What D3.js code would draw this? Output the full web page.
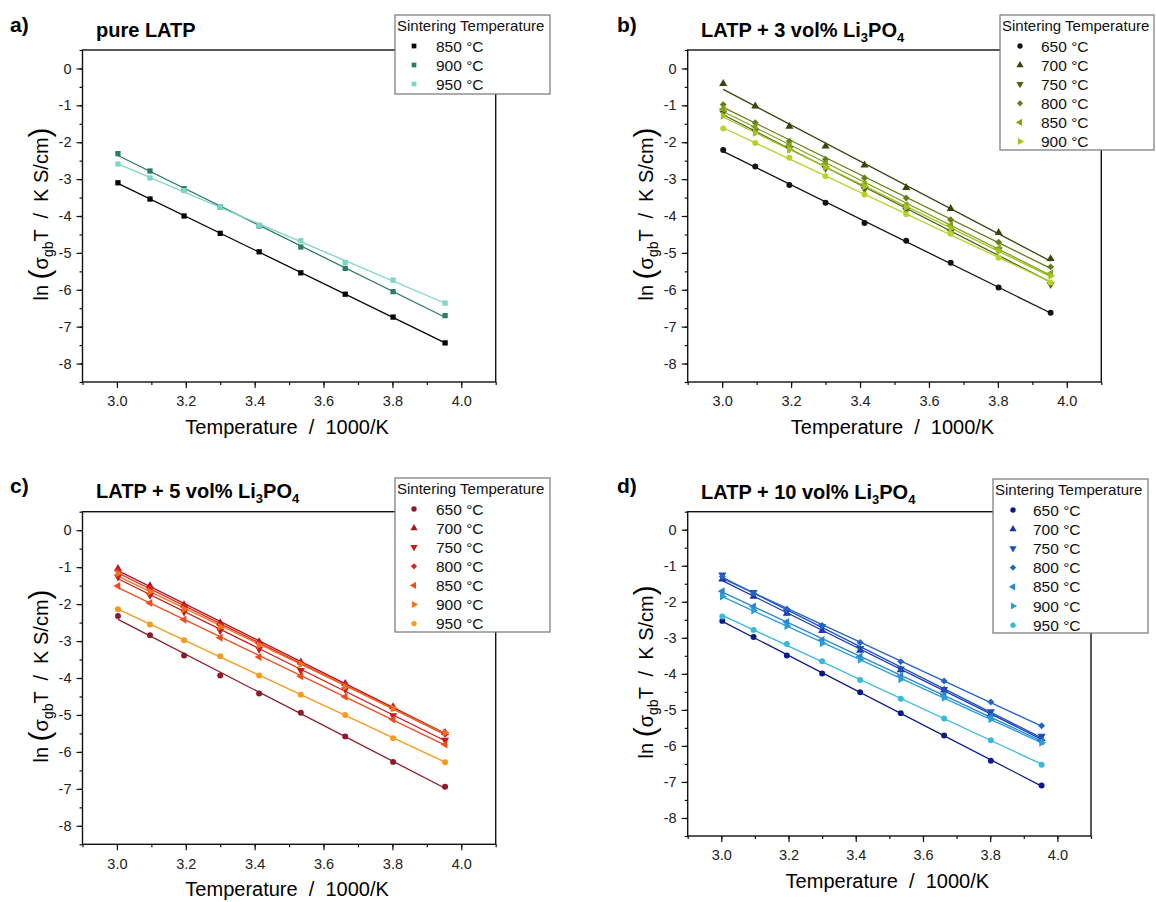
<!DOCTYPE html>
<html>
<head>
<meta charset="utf-8">
<script src="https://cdnjs.cloudflare.com/ajax/libs/d3/7.8.5/d3.min.js"></script>
<style>
  body { margin: 0; background: #fff; }
  svg text { font-family: "Liberation Sans", Arial, sans-serif; }
</style>
</head>
<body>
<svg width="1156" height="902"></svg>
<script>
// x positions: 1000/T for measurement temperatures 60 ... -20 °C
const invT = [3.003, 3.096, 3.195, 3.300, 3.413, 3.534, 3.663, 3.802, 3.953];

const xTicks = [3.0, 3.2, 3.4, 3.6, 3.8, 4.0];
const yTicks = [0, -1, -2, -3, -4, -5, -6, -7, -8];

// a) pure LATP
const tempsA = ["850 °C", "900 °C", "950 °C"];
const shapesA = ["square", "square", "square"];
const colorsA = ["#050505", "#2e7b68", "#7dd4c7"];
const valuesA = [
  [-3.10, -3.54, -4.00, -4.47, -4.97, -5.54, -6.12, -6.74, -7.44],
  [-2.31, -2.78, -3.26, -3.76, -4.27, -4.84, -5.42, -6.05, -6.70],
  [-2.59, -2.97, -3.31, -3.76, -4.25, -4.67, -5.26, -5.74, -6.36]
];

// b) LATP + 3 vol% Li3PO4 (last series has no legend entry)
const tempsB = ["650 °C", "700 °C", "750 °C", "800 °C", "850 °C", "900 °C"];
const shapesB = ["circle", "up", "down", "diamond", "left", "right", "circle"];
const colorsB = ["#141414", "#38450f", "#4e6012", "#677f16", "#85a11b", "#a2c21f", "#b4d42a"];
const valuesB = [
  [-2.21, -2.66, -3.16, -3.64, -4.19, -4.67, -5.27, -5.94, -6.62],
  [-0.41, -1.02, -1.57, -2.11, -2.62, -3.23, -3.80, -4.45, -5.16],
  [-1.20, -1.70, -2.17, -2.71, -3.27, -3.84, -4.43, -4.91, -5.85],
  [-0.98, -1.47, -1.97, -2.46, -2.97, -3.51, -4.10, -4.71, -5.38],
  [-1.10, -1.58, -2.08, -2.58, -3.14, -3.71, -4.25, -4.88, -5.56],
  [-1.28, -1.74, -2.20, -2.68, -3.20, -3.76, -4.33, -4.95, -5.62],
  [-1.63, -2.02, -2.42, -2.92, -3.42, -3.95, -4.48, -5.13, -5.80]
];

// c) LATP + 5 vol% Li3PO4
const tempsC = ["650 °C", "700 °C", "750 °C", "800 °C", "850 °C", "900 °C", "950 °C"];
const shapesC = ["circle", "up", "down", "diamond", "left", "right", "circle"];
const colorsC = ["#8b1a2b", "#b0141f", "#cc1818", "#e0221a", "#ec4e1e", "#f2721b", "#f7991c"];
const valuesC = [
  [-2.32, -2.84, -3.39, -3.93, -4.42, -4.94, -5.58, -6.27, -6.94],
  [-1.04, -1.51, -2.02, -2.51, -3.02, -3.57, -4.15, -4.78, -5.48],
  [-1.26, -1.76, -2.21, -2.72, -3.22, -3.79, -4.31, -5.02, -5.68],
  [-1.10, -1.58, -2.07, -2.57, -3.07, -3.61, -4.19, -4.82, -5.52],
  [-1.51, -1.97, -2.42, -2.91, -3.43, -3.95, -4.51, -5.12, -5.80],
  [-1.17, -1.67, -2.14, -2.61, -3.11, -3.63, -4.24, -4.82, -5.48],
  [-2.14, -2.55, -2.98, -3.41, -3.93, -4.45, -5.00, -5.63, -6.28]
];

// d) LATP + 10 vol% Li3PO4
const tempsD = ["650 °C", "700 °C", "750 °C", "800 °C", "850 °C", "900 °C", "950 °C"];
const shapesD = ["circle", "up", "down", "diamond", "left", "right", "circle"];
const colorsD = ["#0b1a8a", "#1836aa", "#1c4dbf", "#2463c9", "#2b86d2", "#2a9fd5", "#36b9dc"];
const valuesD = [
  [-2.53, -2.98, -3.49, -3.99, -4.51, -5.09, -5.71, -6.41, -7.10],
  [-1.37, -1.85, -2.32, -2.80, -3.35, -3.89, -4.45, -5.12, -5.80],
  [-1.25, -1.74, -2.28, -2.69, -3.29, -3.86, -4.43, -5.05, -5.73],
  [-1.30, -1.76, -2.20, -2.66, -3.13, -3.66, -4.20, -4.78, -5.44],
  [-1.71, -2.13, -2.56, -3.06, -3.52, -4.06, -4.59, -5.19, -5.87],
  [-1.85, -2.24, -2.67, -3.15, -3.61, -4.15, -4.66, -5.26, -5.91],
  [-2.41, -2.78, -3.17, -3.65, -4.17, -4.69, -5.24, -5.84, -6.52]
];

const svg = d3.select("svg");

const symbolOf = {
  square: [d3.symbolSquare, 0, 28],
  circle: [d3.symbolCircle, 0, 28],
  up: [d3.symbolTriangle, 0, 28],
  down: [d3.symbolTriangle, 180, 28],
  left: [d3.symbolTriangle, -90, 28],
  right: [d3.symbolTriangle, 90, 28],
  diamond: [d3.symbolSquare, 45, 24]
};

function marker(g, shape, x, y, color, scale) {
  const s = symbolOf[shape];
  g.append("path")
    .attr("d", d3.symbol().type(s[0]).size(s[2] * (scale || 1))())
    .attr("transform", `translate(${x},${y}) rotate(${s[1]})`)
    .attr("fill", color);
}

// least squares line through a series
function fit(xs, ys) {
  const mx = d3.mean(xs), my = d3.mean(ys);
  let num = 0, den = 0;
  xs.forEach((x, i) => { num += (x - mx) * (ys[i] - my); den += (x - mx) * (x - mx); });
  const k = num / den;
  return x => my + k * (x - mx);
}

function drawPanel(p) {
  const x = d3.scaleLinear().domain([2.9, 4.1]).range([p.left, p.right]);
  const y = d3.scaleLinear().domain([-8.5, 0.5]).range([p.bottom, p.top]);
  const g = svg.append("g");

  // minor ticks
  g.append("g")
    .attr("transform", `translate(0,${p.bottom})`)
    .call(d3.axisBottom(x).tickValues(d3.range(2.9, 4.11, 0.1)).tickSize(3).tickFormat(""))
    .call(a => a.select(".domain").remove());
  g.append("g")
    .attr("transform", `translate(${p.left},0)`)
    .call(d3.axisLeft(y).tickValues(d3.range(-8.5, 0.51, 0.5)).tickSize(3).tickFormat(""))
    .call(a => a.select(".domain").remove());

  // major ticks
  const xa = g.append("g")
    .attr("transform", `translate(0,${p.bottom})`)
    .call(d3.axisBottom(x).tickValues(xTicks).tickSize(6).tickPadding(8).tickFormat(d => d.toFixed(1)));
  const ya = g.append("g")
    .attr("transform", `translate(${p.left},0)`)
    .call(d3.axisLeft(y).tickValues(yTicks).tickSize(6).tickPadding(5).tickFormat(d => String(d)));
  [xa, ya].forEach(a => {
    a.select(".domain").remove();
    a.attr("font-family", null).attr("font-size", 14.5);
    a.selectAll("text").attr("fill", "#222");
  });
  g.selectAll(".tick line").attr("stroke", "#111").attr("stroke-width", 1.2);

  g.append("rect")
    .attr("x", p.left).attr("y", p.top)
    .attr("width", p.right - p.left).attr("height", p.bottom - p.top)
    .attr("fill", "none").attr("stroke", "#111").attr("stroke-width", 1.4);

  // fit lines and points
  p.values.forEach((vals, i) => {
    const f = fit(invT, vals);
    g.append("line")
      .attr("x1", x(invT[0])).attr("y1", y(f(invT[0])))
      .attr("x2", x(invT[invT.length - 1])).attr("y2", y(f(invT[invT.length - 1])))
      .attr("stroke", p.colors[i]).attr("stroke-width", 1.3);
  });
  p.values.forEach((vals, i) => {
    vals.forEach((v, j) => marker(g, p.shapes[i], x(invT[j]), y(v), p.colors[i]));
  });

  // panel letter and title
  g.append("text").attr("x", p.letterX).attr("y", p.letterY)
    .attr("font-size", 21).attr("font-weight", "bold").text(p.letter);
  const t = g.append("text").attr("x", p.titleX).attr("y", p.titleY)
    .attr("font-size", 20).attr("font-weight", "bold");
  if (p.pct) {
    t.append("tspan").text(`LATP + ${p.pct} vol% Li`);
    t.append("tspan").attr("font-size", 13).attr("dy", 5).text("3");
    t.append("tspan").attr("dy", -5).text("PO");
    t.append("tspan").attr("font-size", 13).attr("dy", 5).text("4");
  } else {
    t.text("pure LATP");
  }

  // axis titles
  g.append("text")
    .attr("x", (x(3.0) + x(4.0)) / 2 - 2).attr("y", p.xTitleY)
    .attr("text-anchor", "middle").attr("font-size", 20)
    .style("white-space", "pre")
    .text("Temperature  /  1000/K");

  const yt = g.append("text")
    .attr("transform", `translate(${p.yTitleX},${(p.top + p.bottom) / 2 - 2}) rotate(-90)`)
    .attr("text-anchor", "middle").attr("font-size", 20)
    .style("white-space", "pre");
  yt.append("tspan").text("ln ");
  yt.append("tspan").attr("font-size", 30).attr("font-weight", 300).attr("dy", 2).text("(");
  yt.append("tspan").attr("dy", -2).text("σ");
  yt.append("tspan").attr("font-size", 14).attr("dy", 5).text("gb");
  yt.append("tspan").attr("dy", -5).text("T  /  K S/cm");
  yt.append("tspan").attr("font-size", 30).attr("dy", 2).text(")");

  // legend
  const L = p.legend;
  const lg = svg.append("g");
  lg.append("rect")
    .attr("x", L.x).attr("y", L.y).attr("width", L.w).attr("height", L.h)
    .attr("fill", "#fff").attr("stroke", "#808080").attr("stroke-width", 1.3);
  lg.append("text").attr("x", L.x + 2).attr("y", L.y + 16)
    .attr("font-size", 15).attr("fill", "#111").text("Sintering Temperature");
  p.temps.forEach((label, i) => {
    const cy = L.y + 31 + i * L.step;
    marker(lg, p.shapes[i], L.mx, cy, p.colors[i], 0.8);
    lg.append("text").attr("x", L.tx).attr("y", cy + 5.5)
      .attr("font-size", 15.5).attr("fill", "#111").text(label);
  });
}

drawPanel({
  left: 82.5, right: 495.7, top: 50, bottom: 382,
  values: valuesA, colors: colorsA, shapes: shapesA, temps: tempsA,
  letter: "a)", letterX: 10, letterY: 32, titleX: 96, titleY: 37,
  xTitleY: 434, yTitleX: 48,
  legend: { x: 395, y: 15, w: 155, h: 79, step: 19, mx: 414, tx: 436 }
});
drawPanel({
  left: 687.7, right: 1101.3, top: 50, bottom: 382, pct: 3,
  values: valuesB, colors: colorsB, shapes: shapesB, temps: tempsB,
  letter: "b)", letterX: 617, letterY: 32, titleX: 701, titleY: 37,
  xTitleY: 434, yTitleX: 653,
  legend: { x: 1000, y: 15, w: 154, h: 135, step: 19.1, mx: 1020, tx: 1041 }
});
drawPanel({
  left: 82.5, right: 495.7, top: 511.7, bottom: 844.3, pct: 5,
  values: valuesC, colors: colorsC, shapes: shapesC, temps: tempsC,
  letter: "c)", letterX: 10, letterY: 493, titleX: 96, titleY: 498,
  xTitleY: 896, yTitleX: 48,
  legend: { x: 395, y: 478, w: 155, h: 154, step: 19.1, mx: 414, tx: 436 }
});
drawPanel({
  left: 687.7, right: 1091, top: 511.7, bottom: 836, pct: 10,
  values: valuesD, colors: colorsD, shapes: shapesD, temps: tempsD,
  letter: "d)", letterX: 617, letterY: 493, titleX: 701, titleY: 499,
  xTitleY: 888, yTitleX: 653,
  legend: { x: 993, y: 479, w: 155, h: 154, step: 19.2, mx: 1013, tx: 1033 }
});
</script>
</body>
</html>
